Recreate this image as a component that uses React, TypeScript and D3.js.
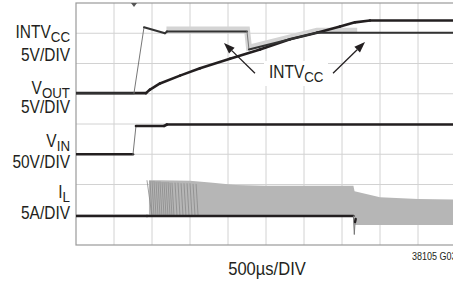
import React from "react"
import * as d3 from "d3"

// scope settings: 500µs/div, 10 x 8 divisions
const timeDomain = [0, 5000]
const divCount = 8

// channel traces (time in µs, values in channel units)
const intvccTime = [0, 763, 895, 1171, 1197, 2250, 2276, 2816, 3171, 5000]
const intvccVolts = [0, 0, 10.9, 9.9, 10.2, 10.2, 7.2, 8.9, 10.0, 10.0]

const voutTime = [0, 921, 974, 1105, 1368, 1632, 2026, 2421, 2816, 3171, 3474, 3671, 3868, 5000]
const voutVolts = [0, 0, 0.6, 1.6, 2.9, 4.1, 5.7, 7.2, 8.9, 10.0, 11.0, 11.7, 12.0, 12.0]

const vinTime = [0, 750, 789, 1158, 1197, 5000]
const vinVolts = [0, 0, 46.7, 46.7, 49.2, 49.2]

// inductor current: baseline, switching envelope and the first discrete pulses
const ilBaseTime = [0, 934, 3650, 3662, 3672, 3680]
const ilBaseAmps = [0, 0, 0, -3.0, -1.0, -0.5]
const ilBandTime = [960, 1100, 1500, 1800, 2100, 2500, 3000, 3650, 3665, 4000, 4500, 5000]
const ilBandTop = [5.9, 5.9, 5.8, 5.5, 5.1, 5.0, 5.0, 5.0, 4.1, 3.1, 2.8, 2.7]
const ilBandBottom = [0, 0, 0, 0, 0, 0, 0, 0, -1.5, -1.5, -1.5, -1.5]
const ilPulseTime = [934, 974, 1000, 1026, 1053, 1079, 1105, 1132, 1158, 1184, 1211, 1237, 1263, 1303, 1342, 1382, 1421, 1461, 1500, 1540, 1580]
const ilPulsePeak = [5.9, 5.8, 5.8, 5.8, 5.7, 5.7, 5.7, 5.6, 5.6, 5.6, 5.6, 5.5, 5.5, 5.5, 5.5, 5.4, 5.4, 5.4, 5.4, 5.3, 5.3]

// channel ground marker (divisions from bottom) and units per division
const chanGround = { intvcc: 5.02, vout: 5.02, vin: 3.0, il: 0.96 }
const chanScale = { intvcc: 5, vout: 5, vin: 50, il: 5 }

const W = 453
const H = 281
const x = d3.scaleLinear().domain(timeDomain).range([76, 456])
const yDiv = d3.scaleLinear().domain([0, divCount]).range([245, 3])
const chanY = (ch: string, v: number) => yDiv(chanGround[ch] + v / chanScale[ch])

const ink = "#231f20"
const font = "'Liberation Sans', Arial, sans-serif"

// draw a trace segment by segment; fast edges look faint as on a scope
const Trace = ({ times, vals, ch, width = 2.6, color = ink }) => {
	const segs = d3.pairs(d3.zip(times, vals)).map(([a, b]) => {
		const x1 = x(a[0]), y1 = chanY(ch, a[1]), x2 = x(b[0]), y2 = chanY(ch, b[1])
		const steep = Math.abs(y2 - y1) > 4 * Math.abs(x2 - x1) + 1
		return { x1, y1, x2, y2, steep }
	})
	return (
		<g strokeLinecap="round">
			{segs.map((s, i) => (
				<line key={i} x1={s.x1} y1={s.y1} x2={s.x2} y2={s.y2}
					stroke={s.steep ? "#777" : color} strokeWidth={s.steep ? 1 : width} />
			))}
		</g>
	)
}

const Label = ({ tx, ty, main, sub = "", size = 18, sx = 0.86, anchor = "end" }) => (
	<text transform={`translate(${tx},${ty}) scale(${sx},1)`} textAnchor={anchor}
		fontSize={size} fontFamily={font} fill={ink}>
		{main}
		{sub && <tspan dy={3.5} fontSize={size * 0.86}>{sub}</tspan>}
	</text>
)

const Arrow = ({ t0, v0, t1, v1 }) => {
	const x0 = x(t0), y0 = chanY("intvcc", v0), x1 = x(t1), y1 = chanY("intvcc", v1)
	const a = Math.atan2(y1 - y0, x1 - x0)
	const len = 11, hw = 4
	const bx = x1 - len * Math.cos(a), by = y1 - len * Math.sin(a)
	const pts = [
		[x1, y1],
		[bx + hw * Math.sin(a), by - hw * Math.cos(a)],
		[bx - hw * Math.sin(a), by + hw * Math.cos(a)],
	]
	return (
		<g>
			<line x1={x0} y1={y0} x2={bx} y2={by} stroke={ink} strokeWidth={1.3} />
			<polygon points={pts.map(p => p.join(",")).join(" ")} fill={ink} />
		</g>
	)
}

export default function App() {
	const area = d3.area()
		.x((d: any) => x(d[0]))
		.y0((d: any) => chanY("il", d[2]))
		.y1((d: any) => chanY("il", d[1]))
	const band = d3.zip(ilBandTime, ilBandTop, ilBandBottom)
	const intvccLine = d3.line().x((d: any) => x(d[0])).y((d: any) => chanY("intvcc", d[1]))

	return (
		<svg width={W} height={H} style={{ position: "absolute", left: 0, top: 0, background: "#fff" }}>
			<defs>
				<clipPath id="plot"><rect x={76} y={3} width={380} height={242} /></clipPath>
				<clipPath id="fuzz"><rect x={x(1190)} y={0} width={x(3700) - x(1190)} height={H} /></clipPath>
			</defs>

			{/* graticule */}
			<g stroke="#d2d2d2" strokeWidth={1}>
				{d3.range(1, 10).map(i => (
					<line key={"v" + i} x1={x(i * 500)} x2={x(i * 500)} y1={yDiv(0)} y2={yDiv(divCount)} />
				))}
				{d3.range(1, divCount).map(i => (
					<line key={"h" + i} x1={x(0)} x2={x(5000)} y1={yDiv(i)} y2={yDiv(i)} />
				))}
			</g>
			<rect x={x(0)} y={yDiv(divCount)} width={x(5000) - x(0)} height={yDiv(0) - yDiv(divCount)}
				fill="none" stroke="#9a9a9a" strokeWidth={1.2} />
			{/* trigger marker */}
			<polygon points={`${x(763) - 3},${yDiv(8)} ${x(763) + 3},${yDiv(8)} ${x(763)},${yDiv(8) + 4}`} fill="#555" />

			<g clipPath="url(#plot)">
				{/* inductor current */}
				<path d={area(band as any)} fill="#b6b6b6" />
				<g stroke="#8a8a8a" strokeWidth={0.8}>
					{ilPulseTime.map((t, i) => (
						<line key={i} x1={x(t)} y1={chanY("il", ilPulsePeak[i])} x2={x(t) + (i === 0 ? 5 : 2)} y2={chanY("il", 0)} />
					))}
				</g>
				<Trace times={ilBaseTime} vals={ilBaseAmps} ch="il" width={2.4} />

				{/* INTVcc noise fuzz */}
				<path d={intvccLine(d3.zip(intvccTime, intvccVolts) as any)} fill="none" stroke="#d4d4d4"
					strokeWidth={6} transform="translate(0,-2)" clipPath="url(#fuzz)" />

				<Trace times={vinTime} vals={vinVolts} ch="vin" />
				<Trace times={voutTime} vals={voutVolts} ch="vout" />
				<Trace times={intvccTime} vals={intvccVolts} ch="intvcc" width={2} color="#333" />
			</g>

			{/* annotation */}
			<rect x={264} y={61} width={64} height={25} fill="#fff" />
			<Label tx={269} ty={78} main="INTV" sub="CC" anchor="start" />
			<Arrow t0={2355} v0={3.3} t1={1947} v1={8.3} />
			<Arrow t0={3382} v0={3.3} t1={3803} v1={8.45} />

			{/* channel labels */}
			<Label tx={70} ty={38} main="INTV" sub="CC" />
			<Label tx={70} ty={61} main="5V/DIV" />
			<Label tx={70} ty={94} main="V" sub="OUT" />
			<Label tx={70} ty={113} main="5V/DIV" />
			<Label tx={70} ty={147} main="V" sub="IN" />
			<Label tx={70} ty={168} main="50V/DIV" />
			<Label tx={70} ty={198} main="I" sub="L" />
			<Label tx={70} ty={219} main="5A/DIV" />

			<Label tx={267} ty={275} main="500µs/DIV" anchor="middle" sx={0.92} />
			<Label tx={412} ty={260} main="38105 G03" anchor="start" size={10} sx={0.9} />
		</svg>
	)
}
